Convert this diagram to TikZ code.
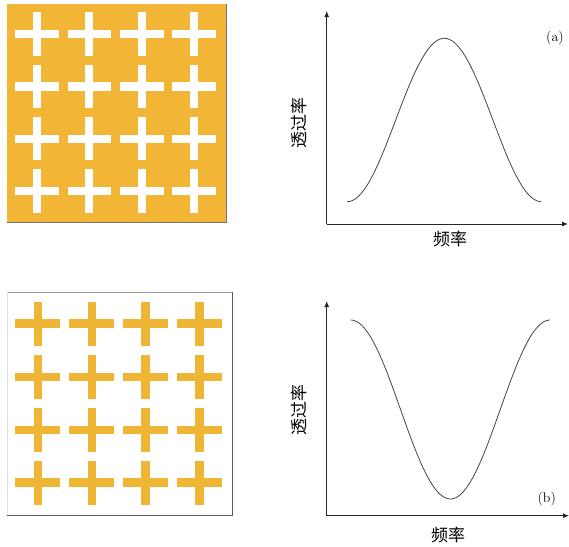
\documentclass[tikz,border=0pt]{standalone}
\usepackage{fontspec}
\newfontfamily\cjk{Noto Sans CJK SC}
\usetikzlibrary{arrows.meta}
\definecolor{orangeA}{HTML}{F3B535}
\definecolor{orangeB}{HTML}{EFB535}
\definecolor{curvegray}{HTML}{444444}
\tikzset{
  axisline/.style={line width=0.9pt, black!85, -{Latex[length=6pt,width=5pt]}},
  curveline/.style={line width=0.8pt, curvegray},
  cjklabel/.style={font=\cjk\fontsize{17}{17}\selectfont, inner sep=0pt},
  panellabel/.style={font=\fontsize{14}{14}\selectfont, inner sep=0pt},
}
\newcommand{\crossshape}[5]{% x y halfx halfy thick/2
  \fill (#1-#3,#2-#5) rectangle (#1+#3,#2+#5);
  \fill (#1-#5,#2-#4) rectangle (#1+#5,#2+#4);
}
\begin{document}
\begin{tikzpicture}[x=1pt,y=-1pt]
\useasboundingbox (0,0) rectangle (569,546);
% ---------- top panel (a) ----------
\fill[orangeA] (7,4.3) rectangle (226,222.7);
\draw[line width=0.8pt, black!55] (226,4.3) -- (226,222.7) -- (7,222.7);
\begin{scope}[white]
\foreach \cx in {37,89.3,141.7,194}{
  \foreach \cy in {34,86.4,138.7,191}{
    \crossshape{\cx}{\cy}{21.8}{21.7}{4.1}
  }
}
\end{scope}
% axes (a)
\coordinate (oa) at (326.7,224);
\coordinate (ya) at (326.7,11);
\coordinate (xa) at (568,224);
\draw[axisline] (oa) -- (ya);
\draw[axisline] (oa) -- (xa);
\draw[curveline] plot[domain=-1:1, samples=100, smooth] ({444.3+97.2*\x}, {201.7-163.4*(1+cos(180*\x))/2});
\node[panellabel] (la) at (555,38) {(a)};
\node[cjklabel, rotate=90] (ta) at (299,123) {透过率};
\node[cjklabel] (fa) at (450,239) {频率};
% ---------- bottom panel (b) ----------
\fill[white] (7,292.3) rectangle (232.3,515);
\draw[line width=0.6pt, black!40] (7,292.3) -- (232.3,292.3);
\draw[line width=0.5pt, black!12] (7,292.3) -- (7,515);
\draw[line width=0.8pt, black!65] (232.3,292.3) -- (232.3,515) -- (7,515);
\begin{scope}[orangeB]
\foreach \cx in {37.9,91.8,145.5,199.2}{
  \foreach \cy in {323.7,377,430,482.7}{
    \crossshape{\cx}{\cy}{22.5}{22.2}{4.3}
  }
}
\end{scope}
% axes (b)
\coordinate (ob) at (326.7,515.7);
\coordinate (yb) at (326.7,301);
\coordinate (xb) at (569,515.7);
\draw[axisline] (ob) -- (yb);
\draw[axisline] (ob) -- (xb);
\draw[curveline] plot[domain=-1:1, samples=100, smooth] ({450.4+99.7*\x}, {320+179*(1+cos(180*\x))/2});
\node[panellabel] (lb) at (546.7,499) {(b)};
\node[cjklabel, rotate=90] (tb) at (299,410) {透过率};
\node[cjklabel] (fb) at (448,535) {频率};
\end{tikzpicture}
\end{document}
